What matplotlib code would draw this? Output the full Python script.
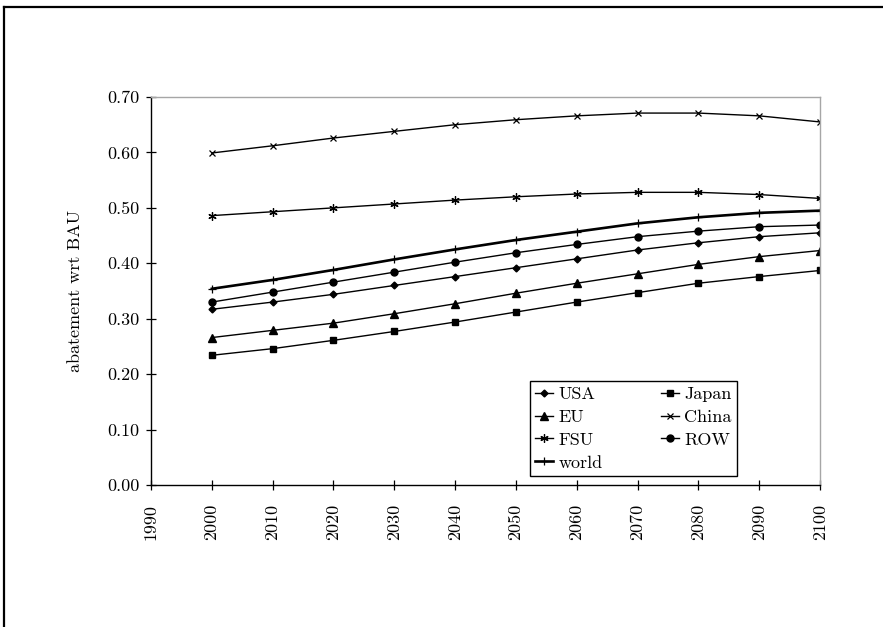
import matplotlib
matplotlib.use("Agg")
import matplotlib.pyplot as plt
from matplotlib.lines import Line2D

plt.rcParams['font.family'] = ['cmr10', 'DejaVu Serif']
plt.rcParams['axes.formatter.use_mathtext'] = True

years = [2000, 2010, 2020, 2030, 2040, 2050, 2060, 2070, 2080, 2090, 2100]
usa   = [0.317, 0.330, 0.344, 0.360, 0.376, 0.392, 0.408, 0.424, 0.437, 0.448, 0.455]
japan = [0.234, 0.246, 0.261, 0.277, 0.294, 0.312, 0.330, 0.347, 0.364, 0.376, 0.387]
eu    = [0.266, 0.279, 0.292, 0.309, 0.327, 0.346, 0.364, 0.381, 0.398, 0.412, 0.423]
china = [0.599, 0.612, 0.626, 0.638, 0.650, 0.659, 0.666, 0.671, 0.671, 0.666, 0.655]
fsu   = [0.486, 0.493, 0.500, 0.507, 0.514, 0.520, 0.525, 0.528, 0.528, 0.524, 0.517]
row   = [0.330, 0.348, 0.366, 0.384, 0.402, 0.419, 0.434, 0.448, 0.458, 0.466, 0.469]
world = [0.354, 0.370, 0.388, 0.407, 0.425, 0.442, 0.457, 0.472, 0.483, 0.491, 0.495]

xticks = list(range(1990, 2101, 10))
yticks = [0.0, 0.1, 0.2, 0.3, 0.4, 0.5, 0.6, 0.7]
ylabel = "abatement wrt BAU"

W, H = 883, 627
fig = plt.figure(figsize=(W / 100, H / 100), dpi=100)
ax = fig.add_axes([151 / W, 1 - 485 / H, (820 - 151) / W, (485 - 97) / H])

lw = 1.0
h_usa, = ax.plot(years, usa, color='black', lw=lw, marker='D', ms=3.5, label='USA')
h_jap, = ax.plot(years, japan, color='black', lw=lw, marker='s', ms=5, label='Japan')
h_eu, = ax.plot(years, eu, color='black', lw=lw, marker='^', ms=5.5, label='EU')
h_chn, = ax.plot(years, china, color='black', lw=lw, marker='x', ms=5, mew=0.9, label='China')
h_fsu, = ax.plot(years, fsu, color='black', lw=lw, marker=(6, 2, 0), ms=6, mew=0.9, label='FSU')
h_row, = ax.plot(years, row, color='black', lw=lw, marker='o', ms=5, label='ROW')
h_wld, = ax.plot(years, world, color='black', lw=1.9, marker='+', ms=6, mew=0.9, label='world')

ax.set_xlim(1990, 2100)
ax.set_ylim(0, 0.70)
ax.set_xticks(xticks)
ax.set_xticklabels([str(t) for t in xticks], rotation=90)
ax.set_yticks(yticks)
ax.set_yticklabels([f"{v:.2f}" for v in yticks])
ax.tick_params(axis='both', direction='inout', length=7, width=0.9, labelsize=13, colors='black')
ax.tick_params(axis='y', pad=5)
ax.tick_params(axis='x', pad=10)
ax.set_ylabel(ylabel, fontsize=13, labelpad=17)

for s in ['left', 'bottom']:
    ax.spines[s].set_color('black')
    ax.spines[s].set_linewidth(1.0)
for s in ['top', 'right']:
    ax.spines[s].set_color('#a6a6a6')
    ax.spines[s].set_linewidth(1.0)

handles = [h_usa, h_eu, h_fsu, h_wld, h_jap, h_chn, h_row]
leg = ax.legend(handles=handles, labels=[h.get_label() for h in handles],
                ncol=2, loc='lower left',
                bbox_to_anchor=(530 / W, 1 - 476 / H, 207 / W, 93 / H),
                mode='expand', bbox_transform=fig.transFigure, borderaxespad=0,
                fontsize=13, handlelength=1.0, handletextpad=0.3, columnspacing=1.0,
                labelspacing=0.4, borderpad=0.3, fancybox=False, framealpha=1)
leg.get_frame().set_edgecolor('black')
leg.get_frame().set_linewidth(1.0)

# outer frame (top and left edges)
fig.add_artist(Line2D([4 / W, 1.0], [1 - 7 / H, 1 - 7 / H], transform=fig.transFigure,
                      color='black', lw=1.6))
fig.add_artist(Line2D([4 / W, 4 / W], [0.0, 1 - 7 / H], transform=fig.transFigure,
                      color='black', lw=1.6))

fig.savefig("out.png", dpi=100)
